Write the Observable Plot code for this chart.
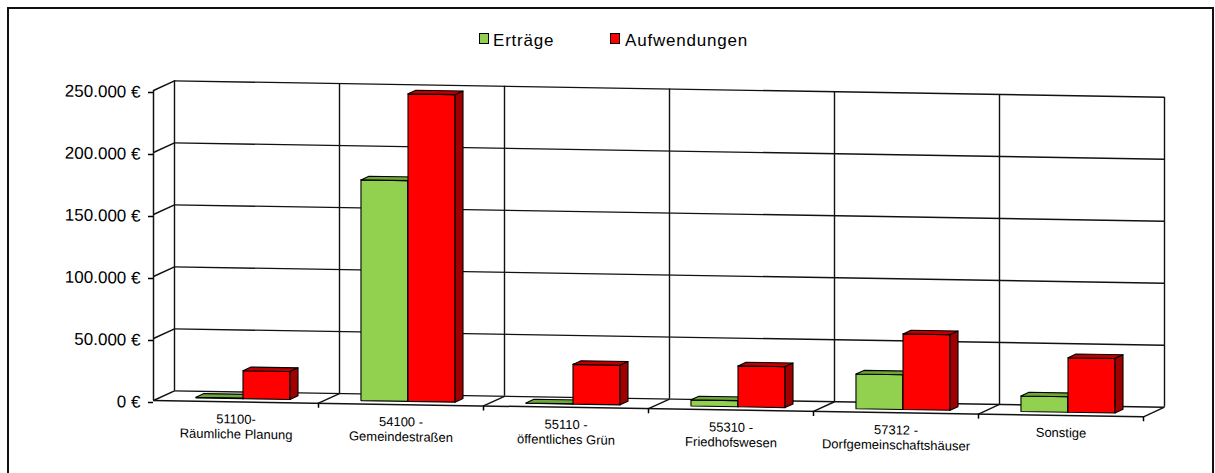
<!DOCTYPE html>
<html>
<head>
<meta charset="utf-8">
<script src="https://cdn.jsdelivr.net/npm/d3@7"></script>
<script src="https://cdn.jsdelivr.net/npm/@observablehq/plot@0.6"></script>
<style>
  body { margin: 0; background: #fff; font-family: Arial, "Liberation Sans", sans-serif; }
  #frame { position: absolute; left: 7px; top: 7px; width: 1207px; height: 480px; border: 2px solid #111; box-sizing: border-box; }
  .sw { position: absolute; top: 33px; width: 10px; height: 11px; border: 1px solid #000; box-sizing: border-box; }
  .lt { position: absolute; top: 32px; font-size: 17px; line-height: 17px; letter-spacing: 0.8px; color: #000; white-space: nowrap; }
  #chart { position: absolute; left: 0; top: 60px; }
</style>
</head>
<body>
<div id="frame"></div>
<div id="legend"></div>
<div id="chart"></div>
<script>
// ---- data ----
const categories = [
  "51100-\nRäumliche Planung",
  "54100 -\nGemeindestraßen",
  "55110 -\nöffentliches Grün",
  "55310 -\nFriedhofswesen",
  "57312 -\nDorfgemeinschaftshäuser",
  "Sonstige"
];
const seriesNames = ["Erträge", "Aufwendungen"];
const ertraege     = [500, 178000, 300, 5000, 28000, 12500];
const aufwendungen = [22500, 248000, 32000, 33000, 61000, 44000];
const yTicks = [0, 50000, 100000, 150000, 200000, 250000];

// ---- styles ----
const colors = {
  "Erträge":      {front: "#92D050", top: "#6FA63A", side: "#5C8C2F"},
  "Aufwendungen": {front: "#FF0000", top: "#C00000", side: "#A00000"}
};
const legendPos = [{sw: 479, tx: 493}, {sw: 610, tx: 625}];

// legend (HTML)
const legend = document.getElementById("legend");
seriesNames.forEach((name, k) => {
  const sw = document.createElement("div");
  sw.className = "sw";
  sw.style.left = legendPos[k].sw + "px";
  sw.style.background = colors[name].front;
  legend.appendChild(sw);
  const t = document.createElement("div");
  t.className = "lt";
  t.style.left = legendPos[k].tx + "px";
  t.textContent = name;
  legend.appendChild(t);
});

// ---- oblique 3D projection in data units ----
const yMax = 250000;
const plotH = 413, mTop = 30, mBottom = 73;
const pxPerVal = (plotH - mTop - mBottom) / yMax;
const nCat = categories.length;
const slotPx = (1215 - 153 - 72) / nCat;
const DX = 21 / slotPx;            // depth offset in category units
const DY = 10 / pxPerVal;          // depth offset in value units
const z0 = 1 / 3, z1 = z0 + 0.38, bw = 0.285;
const P = (cx, v, z) => ({x: cx + z * DX, y: v + z * DY});

function faces(values, s) {
  const front = [], top = [], side = [];
  values.forEach((v, i) => {
    const a = i + 0.5 - bw + s * bw, b = a + bw;
    const poly = (arr, pts) => pts.forEach(p => arr.push({...P(...p), id: i}));
    poly(front, [[a,0,z0],[b,0,z0],[b,v,z0],[a,v,z0],[a,0,z0]]);
    poly(top,   [[a,v,z0],[b,v,z0],[b,v,z1],[a,v,z1],[a,v,z0]]);
    poly(side,  [[b,0,z0],[b,0,z1],[b,v,z1],[b,v,z0],[b,0,z0]]);
  });
  return {front, top, side};
}

const fmt = d => d3.format(",")(d).replace(/,/g, ".") + " €";
const gridStroke = "#111";
const gw = 1.4;
const barMarks = [];
[ertraege, aufwendungen].forEach((vals, s) => {
  const f = faces(vals, s);
  const c = colors[seriesNames[s]];
  ["front", "top", "side"].forEach(k => {
    barMarks.push(Plot.line(f[k], {x: "x", y: "y", z: "id", fill: c[k], stroke: "#000", strokeWidth: 1.1, curve: "linear"}));
  });
});

const chart = Plot.plot({
  width: 1215,
  height: plotH,
  marginLeft: 153,
  marginRight: 72,
  marginTop: mTop,
  marginBottom: mBottom,
  style: {fontFamily: 'Arial, "Liberation Sans", sans-serif', color: "#000", background: "transparent"},
  x: {domain: [0, nCat], axis: null},
  y: {domain: [0, yMax], axis: null},
  marks: [
    // back wall vertical lines
    Plot.ruleX(d3.range(0, nCat + 1), {x: d => d + DX, y1: DY, y2: yMax + DY, stroke: gridStroke, strokeWidth: gw}),
    // back wall gridlines
    Plot.ruleY(yTicks, {y: d => d + DY, x1: DX, x2: nCat + DX, stroke: gridStroke, strokeWidth: gw}),
    // left wall obliques
    Plot.link(yTicks, {x1: 0, y1: d => d, x2: DX, y2: d => d + DY, stroke: gridStroke, strokeWidth: gw}),
    // floor obliques
    Plot.link(d3.range(1, nCat + 1), {x1: d => d, y1: 0, x2: d => d + DX, y2: DY, stroke: gridStroke, strokeWidth: gw}),
    // front axis lines
    Plot.ruleY([0], {x1: 0, x2: nCat, stroke: gridStroke, strokeWidth: 1.5}),
    Plot.ruleX([0], {y1: 0, y2: yMax, stroke: gridStroke, strokeWidth: 1.5}),
    Plot.axisY(yTicks, {tickSize: 5, tickPadding: 8, tickFormat: fmt, fontSize: 17, label: null, dy: 2, strokeWidth: 1.5}),
    Plot.axisX(d3.range(1, nCat + 1), {tickSize: 5, tickFormat: () => "", label: null, strokeWidth: 1.5}),
    ...barMarks,
    Plot.text(categories, {x: (d, i) => i + 0.5, y: 0, text: d => d, lineAnchor: "top", dy: 11, lineHeight: 1.154, fontSize: 13, fill: "#000"})
  ]
});

// slight downward tilt of the whole 3D scene (perspective of the original)
const tilt = 0.0165;
const ns = "http://www.w3.org/2000/svg";
const g = document.createElementNS(ns, "g");
g.setAttribute("transform", `matrix(1, ${tilt}, 0, 1, 0, ${-153 * tilt})`);
Array.from(chart.childNodes).forEach(n => {
  if (n.nodeName.toLowerCase() !== "style") g.appendChild(n);
});
chart.appendChild(g);
document.getElementById("chart").appendChild(chart);
</script>
</body>
</html>
